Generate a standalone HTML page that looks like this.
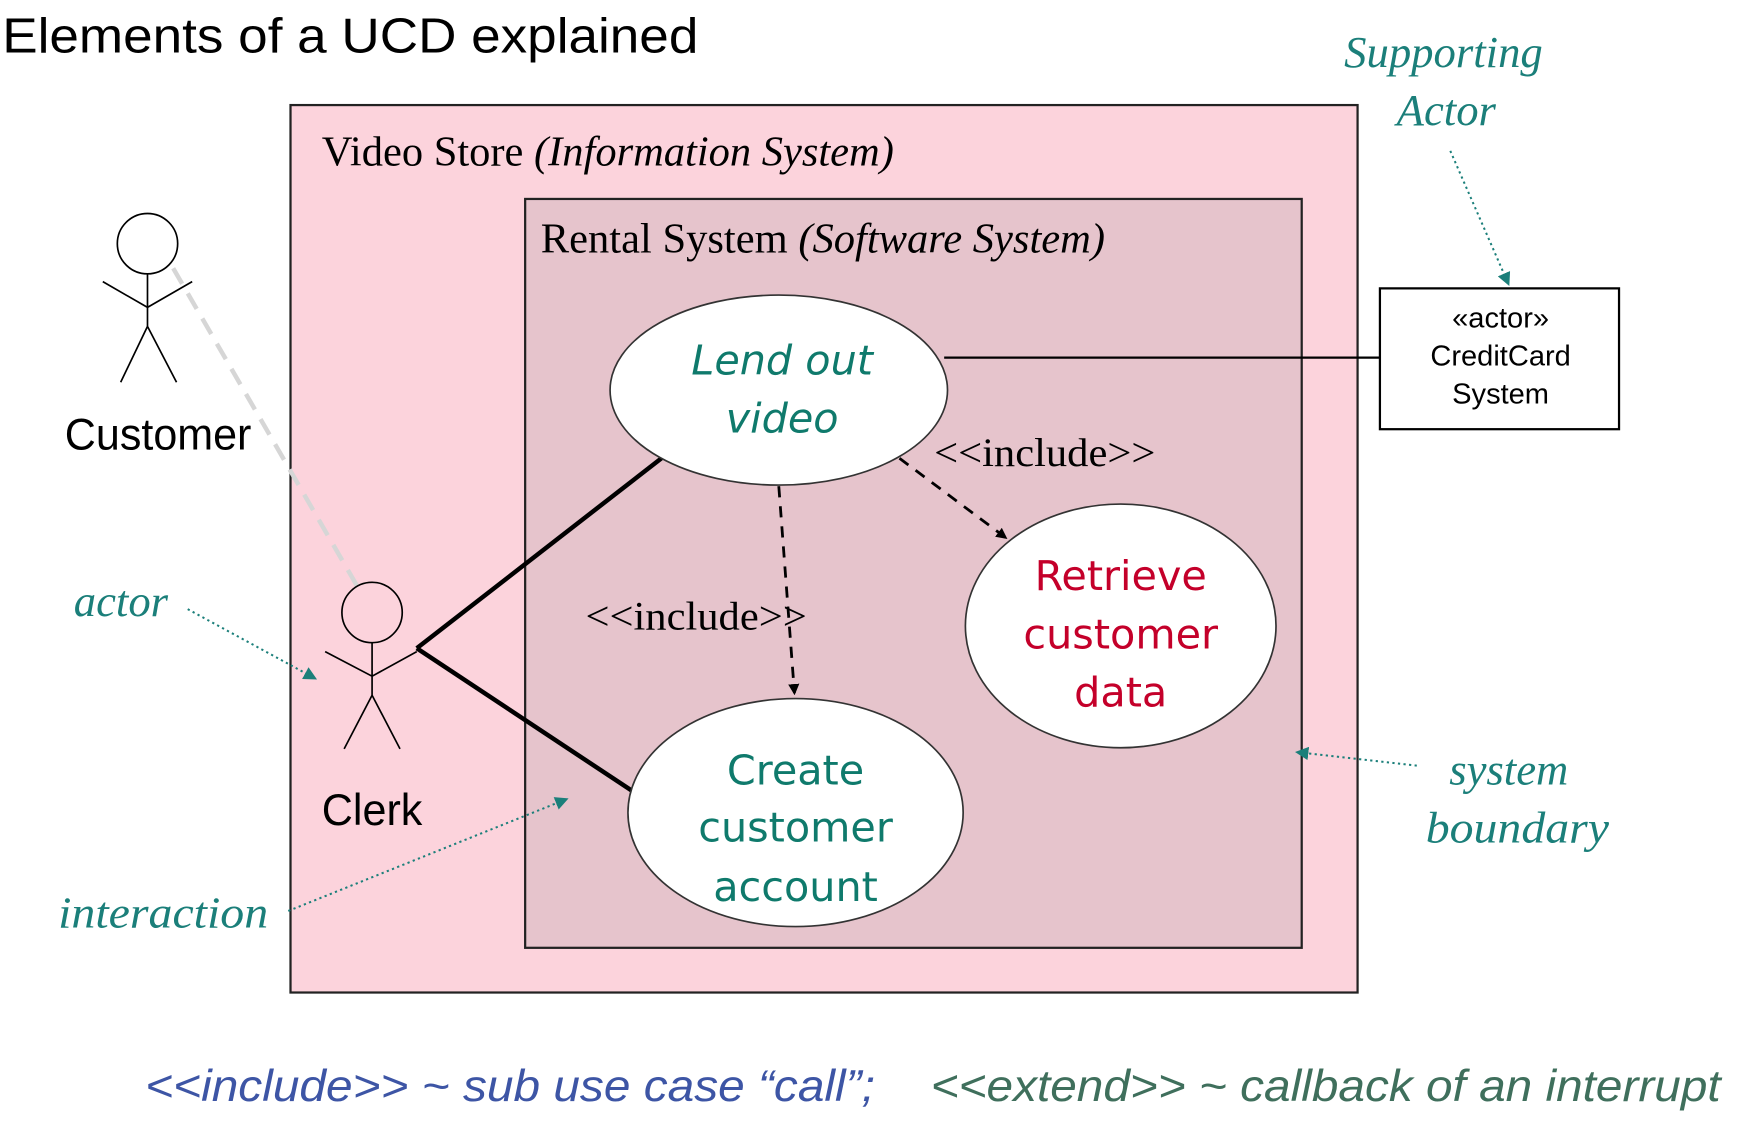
<!DOCTYPE html>
<html><head><meta charset="utf-8"><style>
html,body{margin:0;padding:0;background:#fff;width:1752px;height:1130px;overflow:hidden}
svg{display:block}
.serif{font-family:"Liberation Serif",serif}
.sans{font-family:"Liberation Sans",sans-serif}
.ann{font-family:"Liberation Serif",serif;font-style:italic;fill:#1b7f7a;font-size:40px}
.uc{font-family:"Comic Sans MS","DejaVu Sans",sans-serif;font-size:37px;text-anchor:middle}
</style></head><body>
<svg width="1752" height="1130" viewBox="0 0 1568 1011" preserveAspectRatio="none" xmlns="http://www.w3.org/2000/svg">
<defs>
<marker id="ah" markerWidth="10" markerHeight="10" refX="8" refY="5" orient="auto" markerUnits="userSpaceOnUse"><path d="M0,0 L10,5 L0,10 z" fill="#000"/></marker>
<marker id="at" markerWidth="12" markerHeight="12" refX="10" refY="6" orient="auto" markerUnits="userSpaceOnUse"><path d="M0,0 L12,6 L0,12 z" fill="#1b7f7a"/></marker>
</defs>
<text x="2" y="47" class="sans" font-size="44" textLength="623" lengthAdjust="spacingAndGlyphs">Elements of a UCD explained</text>
<rect x="260" y="94" width="955" height="794" fill="#fcd3dc" stroke="#222" stroke-width="2"/>
<rect x="470" y="178" width="695" height="670" fill="#e6c4cc" stroke="#222" stroke-width="2"/>
<text x="288" y="148" class="serif" font-size="38" textLength="512" lengthAdjust="spacingAndGlyphs">Video Store <tspan font-style="italic">(Information System)</tspan></text>
<text x="484" y="226" class="serif" font-size="38" textLength="505" lengthAdjust="spacingAndGlyphs">Rental System <tspan font-style="italic">(Software System)</tspan></text>
<line x1="155" y1="240" x2="320" y2="525" stroke="#d6d6d6" stroke-width="4" stroke-dasharray="16,10"/>
<line x1="373" y1="580" x2="592" y2="410" stroke="#000" stroke-width="4"/>
<line x1="373" y1="580" x2="592" y2="725" stroke="#000" stroke-width="4"/>
<line x1="845" y1="320" x2="1235" y2="320" stroke="#000" stroke-width="2"/>
<ellipse cx="697" cy="349" rx="151" ry="85" fill="#fff" stroke="#333" stroke-width="1.5"/>
<ellipse cx="1003" cy="560" rx="139" ry="109" fill="#fff" stroke="#333" stroke-width="1.5"/>
<ellipse cx="712" cy="727" rx="150" ry="102" fill="#fff" stroke="#333" stroke-width="1.5"/>
<text class="uc" fill="#0f7a6c" font-style="italic"><tspan x="700" y="335">Lend out</tspan><tspan x="700" y="387">video</tspan></text>
<text class="uc" fill="#c4002a"><tspan x="1003" y="528">Retrieve</tspan><tspan x="1003" y="580">customer</tspan><tspan x="1003" y="632">data</tspan></text>
<text class="uc" fill="#0f7a6c"><tspan x="712" y="702">Create</tspan><tspan x="712" y="753">customer</tspan><tspan x="712" y="806">account</tspan></text>
<line x1="697" y1="435" x2="711" y2="620" stroke="#000" stroke-width="2.5" stroke-dasharray="10,8" marker-end="url(#ah)"/>
<line x1="805" y1="410" x2="900" y2="481" stroke="#000" stroke-width="2.5" stroke-dasharray="10,8" marker-end="url(#ah)"/>
<text x="836" y="417" class="serif" font-size="36" textLength="198" lengthAdjust="spacingAndGlyphs">&lt;&lt;include&gt;&gt;</text>
<text x="524" y="563" class="serif" font-size="36" textLength="198" lengthAdjust="spacingAndGlyphs">&lt;&lt;include&gt;&gt;</text>
<rect x="1235" y="258" width="214" height="126" fill="#fff" stroke="#000" stroke-width="2"/>
<text class="sans" font-size="26" text-anchor="middle"><tspan x="1343" y="293">«actor»</tspan><tspan x="1343" y="327">CreditCard</tspan><tspan x="1343" y="361">System</tspan></text>
<g fill="none" stroke="#000" stroke-width="1.5">
<circle cx="132" cy="218" r="27" fill="#fff"/>
<path d="M132,245 V292 M92,252 L132,275 L172,252 M132,292 L108,342 M132,292 L158,342"/>
<circle cx="333" cy="548" r="27" fill="none"/>
<path d="M333,575 V622 M291,583 L333,605 L373,583 M333,622 L308,670 M333,622 L358,670"/>
</g>
<text x="58" y="402" class="sans" font-size="40" textLength="167" lengthAdjust="spacingAndGlyphs">Customer</text>
<text x="288" y="738" class="sans" font-size="40" textLength="90" lengthAdjust="spacingAndGlyphs">Clerk</text>
<text x="1203" y="60" class="ann">Supporting</text>
<text x="1250" y="112" class="ann">Actor</text>
<text x="66" y="551" class="ann">actor</text>
<text x="52" y="830" class="ann" textLength="188" lengthAdjust="spacingAndGlyphs">interaction</text>
<text x="1297" y="702" class="ann">system</text>
<text x="1276" y="754" class="ann" textLength="164" lengthAdjust="spacingAndGlyphs">boundary</text>
<g stroke="#1b7f7a" stroke-width="1.8" stroke-dasharray="2,3" fill="none">
<line x1="1298" y1="135" x2="1350" y2="254" marker-end="url(#at)"/>
<line x1="168" y1="545" x2="282" y2="607" marker-end="url(#at)"/>
<line x1="258" y1="815" x2="507" y2="715" marker-end="url(#at)"/>
<line x1="1268" y1="685" x2="1161" y2="673" marker-end="url(#at)"/>
</g>
<text x="130" y="985" class="sans" font-size="40" font-style="italic" fill="#3d55a5" textLength="653" lengthAdjust="spacingAndGlyphs">&lt;&lt;include&gt;&gt; ~ sub use case “call”;</text>
<text x="833" y="985" class="sans" font-size="40" font-style="italic" fill="#3f6f5c" textLength="707" lengthAdjust="spacingAndGlyphs">&lt;&lt;extend&gt;&gt; ~ callback of an interrupt</text>
</svg>
</body></html>
